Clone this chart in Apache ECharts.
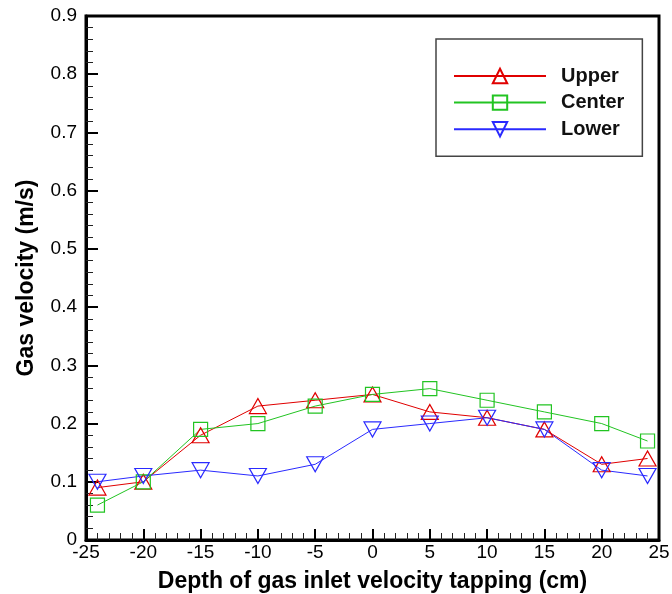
<!DOCTYPE html>
<html>
<head>
<meta charset="utf-8">
<script src="https://cdn.jsdelivr.net/npm/echarts@6/dist/echarts.min.js"></script>
<style>
  html, body { margin: 0; padding: 0; background: #fff; }
  #chart { width: 672px; height: 594px; }
</style>
</head>
<body>
<div id="chart"></div>
<script>
// depth positions (cm)
const depths = [-24, -20, -15, -10, -5, 0, 5, 10, 15, 20, 24];

// gas velocity (m/s)
const upperVel = [0.09, 0.10, 0.18, 0.23, 0.24, 0.25, 0.22, 0.21, 0.19, 0.13, 0.14];
const centerVel = [0.06, 0.10, 0.19, 0.20, 0.23, 0.25, 0.26, 0.24, 0.22, 0.20, 0.17];
const lowerVel = [0.10, 0.11, 0.12, 0.11, 0.13, 0.19, 0.20, 0.21, 0.19, 0.12, 0.11];

const seriesNames = ['Upper', 'Center', 'Lower'];

const font = '"Liberation Sans", Arial, sans-serif';

function pairs(vals) {
    return depths.map((d, i) => [d, vals[i]]);
}

function makeSeries(name, vals, color, symbol, size, rotate) {
    return {
        name: name,
        type: 'line',
        data: pairs(vals),
        symbol: symbol,
        symbolSize: size,
        symbolRotate: rotate,
        showAllSymbol: true,
        lineStyle: { color: color, width: 1 },
        itemStyle: { color: 'transparent', borderColor: color, borderWidth: 1.2 },
        emphasis: { disabled: true },
        animation: false
    };
}

const chart = echarts.init(document.getElementById('chart'));

const option = {
    backgroundColor: '#fff',
    grid: {
        left: 86, right: 13, top: 16, bottom: 54,
        outerBoundsMode: 'none',
        containLabel: false,
        show: true, borderColor: '#000', borderWidth: 3
    },
    legend: {
        data: seriesNames,
        orient: 'vertical',
        left: 436,
        top: 39,
        itemWidth: 92,
        itemHeight: 18,
        itemGap: 6.6,
        padding: [27, 18, 17, 17],
        borderColor: '#444',
        borderWidth: 1.5,
        textStyle: {
            fontFamily: font, fontSize: 20, fontWeight: 'bold', color: '#111',
            padding: [0, 0, 0, 10]
        }
    },
    xAxis: {
        type: 'value',
        min: -25, max: 25, interval: 5,
        name: 'Depth of gas inlet velocity tapping (cm)',
        nameLocation: 'middle',
        nameGap: 30,
        nameTextStyle: { fontFamily: font, fontSize: 23, fontWeight: 'bold', color: '#000' },
        axisLine: { onZero: false, lineStyle: { color: '#000', width: 3 } },
        axisTick: { inside: true, length: 11, lineStyle: { color: '#000', width: 2 } },
        minorTick: { show: true, splitNumber: 5, length: 7, lineStyle: { color: '#222', width: 1 } },
        axisLabel: { fontFamily: font, fontSize: 19, color: '#000', margin: 3 },
        splitLine: { show: false }
    },
    yAxis: {
        type: 'value',
        min: 0, max: 0.9, interval: 0.1,
        name: 'Gas velocity (m/s)',
        nameLocation: 'middle',
        nameGap: 48,
        nameTextStyle: { fontFamily: font, fontSize: 23, fontWeight: 'bold', color: '#000' },
        axisLine: { onZero: false, lineStyle: { color: '#000', width: 3 } },
        axisTick: { inside: true, length: 12, lineStyle: { color: '#000', width: 2 } },
        minorTick: { show: true, splitNumber: 5, length: 7, lineStyle: { color: '#222', width: 1 } },
        axisLabel: { fontFamily: font, fontSize: 19, color: '#000', margin: 9 },
        splitLine: { show: false }
    },
    series: [
        makeSeries('Upper', upperVel, '#e00000', 'triangle', [17, 15], 0),
        makeSeries('Center', centerVel, '#22c422', 'rect', [14, 14], 0),
        makeSeries('Lower', lowerVel, '#2a2aff', 'triangle', [17, 15], 180)
    ]
};

chart.setOption(option);
</script>
</body>
</html>
